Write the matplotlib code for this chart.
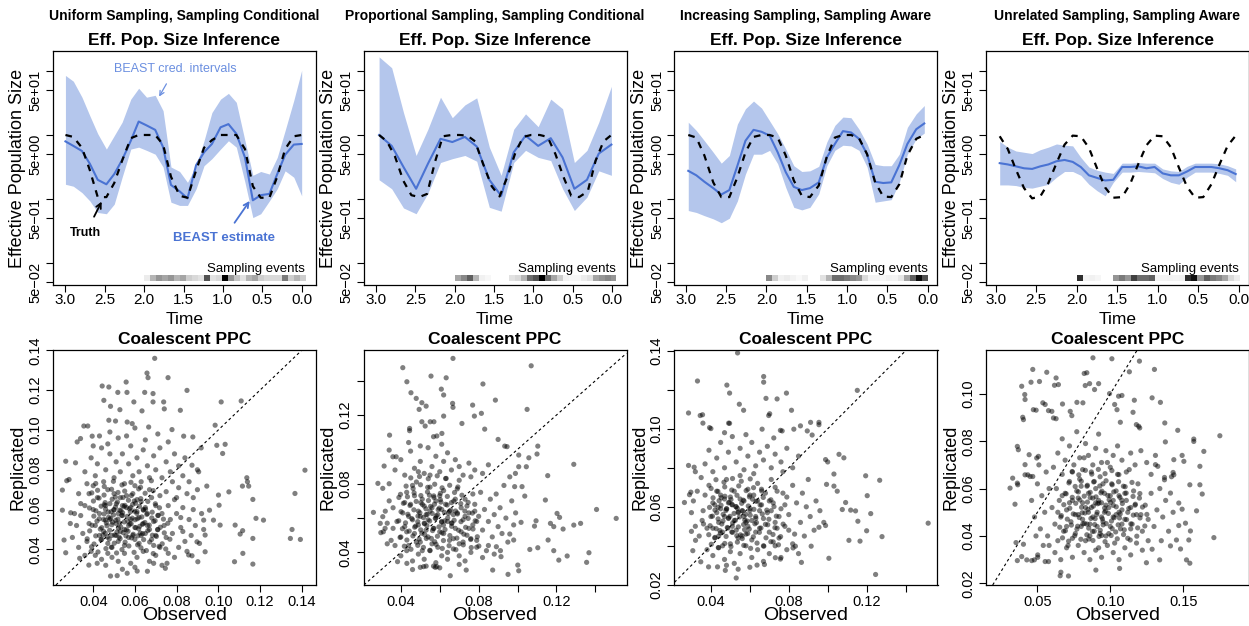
import numpy as np
import matplotlib
matplotlib.use('Agg')
import matplotlib.pyplot as plt

plt.rcParams['font.family'] = ['Liberation Sans', 'DejaVu Sans']

# ---------------- data: top row (log10 effective population size) ----------------
panel_titles = ["Uniform Sampling, Sampling Conditional",
                "Proportional Sampling, Sampling Conditional",
                "Increasing Sampling, Sampling Aware",
                "Unrelated Sampling, Sampling Aware"]

p1_time = [3.00, 2.90, 2.79, 2.69, 2.59, 2.48, 2.38, 2.28, 2.17, 2.07, 1.97, 1.86, 1.76, 1.66, 1.55,
           1.45, 1.34, 1.24, 1.14, 1.03, 0.93, 0.83, 0.72, 0.62, 0.52, 0.41, 0.31, 0.21, 0.10, 0.00]
p1_upper = [1.93, 1.84, 1.59, 1.30, 1.02, 0.78, 0.99, 1.20, 1.56, 1.73, 1.59, 1.62, 1.38, 0.50, 0.43,
            0.26, 0.52, 0.91, 1.35, 1.56, 1.65, 1.51, 0.91, 0.37, 0.43, 0.39, 0.65, 1.07, 1.54, 2.01]
p1_lower = [0.23, 0.20, 0.10, -0.03, -0.21, -0.23, -0.08, 0.34, 0.78, 0.81, 0.76, 0.70, 0.50, -0.05, -0.10,
            -0.10, 0.16, 0.52, 0.63, 0.78, 0.91, 0.81, 0.26, -0.29, -0.23, -0.03, 0.16, 0.44, 0.34, 0.05]
p1_est = [0.90, 0.83, 0.75, 0.55, 0.30, 0.23, 0.39, 0.61, 0.91, 1.21, 1.15, 1.08, 0.81, 0.22, 0.12,
          0.01, 0.53, 0.73, 0.86, 1.12, 1.17, 1.02, 0.65, -0.02, 0.06, 0.08, 0.39, 0.69, 0.85, 0.86]
p1_truth_time = p1_time
p1_truth = [1.00, 0.97, 0.80, 0.45, 0.03, 0.03, 0.25, 0.60, 0.95, 1.00, 1.00, 1.00, 0.85, 0.35, 0.05,
            0.02, 0.45, 0.80, 0.92, 1.00, 1.00, 1.00, 0.78, 0.20, 0.02, 0.02, 0.35, 0.78, 0.98, 1.00]

p2_time = [2.96, 2.80, 2.65, 2.49, 2.34, 2.18, 2.03, 1.87, 1.72, 1.56, 1.41, 1.25, 1.10, 0.94, 0.78,
           0.63, 0.48, 0.32, 0.17, 0.01]
p2_upper = [2.22, 2.05, 1.35, 0.68, 1.09, 1.59, 1.27, 1.47, 1.58, 0.81, 0.37, 1.09, 1.33, 1.13, 1.56,
            1.41, 0.57, 0.76, 1.20, 1.76]
p2_lower = [0.30, 0.16, -0.14, -0.23, 0.09, 0.57, 0.63, 0.68, 0.59, -0.13, -0.19, 0.57, 0.76, 0.65, 0.60,
            0.16, -0.18, 0.03, 0.44, 0.37]
p2_est = [1.00, 0.83, 0.50, 0.16, 0.55, 0.94, 0.89, 0.97, 0.82, 0.30, 0.05, 0.73, 0.99, 0.83, 0.95,
          0.65, 0.16, 0.30, 0.71, 0.85]
p2_truth_time = [2.96, 2.86, 2.76, 2.65, 2.55, 2.45, 2.35, 2.25, 2.15, 2.04, 1.94, 1.84, 1.74, 1.64, 1.53,
                 1.43, 1.33, 1.23, 1.13, 1.03, 0.92, 0.82, 0.72, 0.62, 0.52, 0.42, 0.31, 0.21, 0.11, 0.01]
p2_truth = [1.00, 0.90, 0.67, 0.28, 0.06, 0.03, 0.08, 0.58, 0.98, 1.00, 1.00, 0.99, 0.90, 0.55, 0.20,
            0.04, 0.35, 0.72, 0.97, 1.00, 1.00, 0.97, 0.70, 0.35, 0.05, 0.03, 0.12, 0.60, 0.90, 1.00]

p3_time = [2.97, 2.87, 2.77, 2.66, 2.56, 2.46, 2.36, 2.26, 2.16, 2.06, 1.96, 1.86, 1.76, 1.66, 1.56,
           1.46, 1.35, 1.25, 1.15, 1.05, 0.95, 0.85, 0.75, 0.65, 0.55, 0.45, 0.35, 0.25, 0.14, 0.04]
p3_upper = [1.20, 1.07, 0.91, 0.73, 0.56, 0.68, 1.17, 1.41, 1.53, 1.42, 1.22, 1.02, 0.78, 0.52, 0.43,
            0.44, 0.51, 0.89, 1.15, 1.28, 1.27, 1.09, 0.86, 0.54, 0.52, 0.52, 0.70, 1.12, 1.33, 1.46]
p3_lower = [-0.18, -0.21, -0.26, -0.31, -0.37, -0.30, -0.03, 0.39, 0.70, 0.70, 0.76, 0.55, 0.18, -0.13, -0.17,
            -0.13, 0.08, 0.52, 0.76, 0.84, 0.83, 0.76, 0.50, -0.05, -0.03, -0.01, 0.26, 0.70, 0.94, 1.03]
p3_est = [0.44, 0.37, 0.27, 0.17, 0.07, 0.14, 0.52, 0.91, 1.08, 1.05, 0.99, 0.73, 0.42, 0.19, 0.14,
          0.17, 0.26, 0.65, 0.86, 1.06, 1.04, 0.94, 0.70, 0.27, 0.25, 0.26, 0.53, 0.86, 1.09, 1.18]
p3_truth_time = p3_time
p3_truth = [1.00, 0.96, 0.68, 0.26, 0.03, 0.03, 0.34, 0.73, 0.97, 1.00, 1.00, 0.96, 0.68, 0.29, 0.05,
            0.03, 0.21, 0.66, 0.96, 1.00, 1.00, 0.95, 0.70, 0.26, 0.04, 0.03, 0.23, 0.68, 0.94, 1.00]

p4_time = [2.95, 2.85, 2.75, 2.65, 2.55, 2.45, 2.35, 2.25, 2.15, 2.05, 1.95, 1.85, 1.75, 1.65, 1.55,
           1.44, 1.34, 1.24, 1.14, 1.04, 0.94, 0.84, 0.74, 0.64, 0.54, 0.44, 0.34, 0.24, 0.14, 0.04]
p4_upper = [0.90, 0.81, 0.75, 0.73, 0.71, 0.77, 0.81, 0.86, 0.84, 0.83, 0.65, 0.50, 0.45, 0.42, 0.40,
            0.56, 0.56, 0.57, 0.56, 0.56, 0.47, 0.44, 0.43, 0.51, 0.56, 0.56, 0.56, 0.55, 0.52, 0.47]
p4_lower = [0.22, 0.22, 0.21, 0.18, 0.17, 0.20, 0.23, 0.34, 0.43, 0.43, 0.37, 0.23, 0.13, 0.05, 0.26,
            0.42, 0.42, 0.43, 0.42, 0.41, 0.32, 0.26, 0.23, 0.34, 0.42, 0.42, 0.42, 0.40, 0.37, 0.27]
p4_est = [0.56, 0.54, 0.51, 0.48, 0.47, 0.51, 0.54, 0.59, 0.61, 0.58, 0.50, 0.37, 0.33, 0.29, 0.30,
          0.50, 0.50, 0.51, 0.48, 0.50, 0.40, 0.37, 0.37, 0.43, 0.50, 0.50, 0.50, 0.48, 0.45, 0.39]
p4_truth_time = p4_time
p4_truth = [0.98, 0.78, 0.46, 0.17, 0.01, 0.04, 0.25, 0.56, 0.85, 0.99, 0.98, 0.80, 0.48, 0.18, 0.02,
            0.03, 0.24, 0.55, 0.84, 0.99, 0.98, 0.81, 0.49, 0.19, 0.02, 0.03, 0.23, 0.54, 0.83, 0.99]

# sampling-event intensity (0 = none, 1 = most), 27 bins from t=2.0 towards 0
p1_samp = [0.15, 0.40, 0.50, 0.45, 0.50, 0.40, 0.45, 0.30, 0.25, 0.20, 0.75, 0.20, 0.25, 1.00, 0.50,
           0.35, 0.20, 0.40, 0.45, 0.30, 0.25, 0.25, 0.25, 0.60, 0.30, 0.40, 0.30]
p2_samp = [0.45, 0.55, 0.70, 0.40, 0.12, 0.07, 0.00, 0.00, 0.00, 0.20, 0.25, 0.40, 0.65, 0.75, 1.00,
           0.65, 0.45, 0.30, 0.10, 0.07, 0.07, 0.15, 0.20, 0.45, 0.50, 0.55, 0.50]
p3_samp = [0.55, 0.30, 0.12, 0.15, 0.10, 0.05, 0.12, 0.00, 0.00, 0.20, 0.40, 0.65, 0.65, 0.60, 0.55,
           0.50, 0.25, 0.10, 0.10, 0.08, 0.12, 0.10, 0.18, 0.45, 0.70, 0.95, 0.75]
p4_samp = [0.85, 0.10, 0.12, 0.08, 0.00, 0.00, 0.50, 0.60, 0.50, 0.80, 0.65, 0.65, 0.70, 0.10, 0.10,
           0.12, 0.10, 0.12, 0.85, 0.95, 0.50, 0.70, 0.60, 0.55, 0.45, 0.25, 0.15]

# ---------------- data: bottom row (observed, replicated) ----------------
ppc1 = [
    (0.0695, 0.136), (0.0658, 0.1286), (0.0663, 0.1263), (0.0759, 0.1263), (0.0558, 0.1241), (0.0443, 0.1221),
    (0.0475, 0.1216), (0.0518, 0.1189), (0.0562, 0.1189), (0.0647, 0.1189), (0.0687, 0.1183), (0.0850, 0.1199),
    (0.0451, 0.1149), (0.0595, 0.1141), (0.0687, 0.1141), (0.0738, 0.1141), (0.1014, 0.1141), (0.1110, 0.1146),
    (0.0483, 0.1119), (0.0528, 0.1102), (0.0634, 0.1096), (0.0741, 0.1106), (0.0818, 0.1099), (0.0507, 0.1045),
    (0.0475, 0.1049), (0.0587, 0.1032), (0.0666, 0.1015), (0.0355, 0.1020), (0.0374, 0.1020), (0.0563, 0.1040),
    (0.0778, 0.1002), (0.0985, 0.1024), (0.0878, 0.0965), (0.0834, 0.0969), (0.0339, 0.0957), (0.0323, 0.0940),
    (0.0395, 0.0969), (0.0993, 0.0923), (0.0918, 0.0910), (0.1033, 0.0928), (0.1021, 0.0882), (0.0268, 0.0843),
    (0.0315, 0.0835), (0.0874, 0.0823), (0.0906, 0.0790), (0.1416, 0.0798), (0.1137, 0.0760), (0.1140, 0.0740),
    (0.1051, 0.0689), (0.0945, 0.0718), (0.0252, 0.0698), (0.0273, 0.0745), (0.0284, 0.0751), (0.1116, 0.0718),
    (0.1146, 0.0718), (0.1001, 0.0673), (0.1166, 0.0651), (0.1368, 0.0681), (0.1004, 0.0622), (0.0958, 0.0597),
    (0.0252, 0.0597), (0.0292, 0.0584), (0.0977, 0.0547), (0.1009, 0.0522), (0.0930, 0.0547), (0.1081, 0.0522),
    (0.1117, 0.0494), (0.1181, 0.0556), (0.1217, 0.0547), (0.1354, 0.0500), (0.1346, 0.0455), (0.1394, 0.0450),
    (0.1166, 0.0455), (0.1105, 0.0477), (0.1078, 0.0338), (0.1118, 0.0380), (0.1166, 0.0326), (0.0937, 0.0472),
    (0.0898, 0.0438), (0.0902, 0.0338), (0.0874, 0.0368), (0.0858, 0.0372), (0.0937, 0.0388), (0.0515, 0.0268),
    (0.0483, 0.0266), (0.0563, 0.0280), (0.0611, 0.0291), (0.0690, 0.0330), (0.0746, 0.0305), (0.0754, 0.0330),
    (0.0268, 0.0383), (0.0260, 0.0447), (0.0379, 0.0321), (0.0419, 0.0330), (0.0335, 0.0355),
    (0.041, 0.052), (0.043, 0.058), (0.045, 0.049), (0.046, 0.062), (0.048, 0.055), (0.049, 0.047), (0.050, 0.060),
    (0.051, 0.053), (0.052, 0.044), (0.053, 0.066), (0.054, 0.057), (0.055, 0.050), (0.056, 0.061), (0.057, 0.046),
    (0.058, 0.055), (0.059, 0.068), (0.060, 0.051), (0.061, 0.059), (0.062, 0.043), (0.063, 0.064), (0.064, 0.053),
    (0.065, 0.048), (0.066, 0.058), (0.067, 0.070), (0.068, 0.045), (0.069, 0.054), (0.070, 0.062), (0.071, 0.050),
    (0.072, 0.041), (0.042, 0.066), (0.044, 0.045), (0.047, 0.070), (0.049, 0.041), (0.050, 0.068), (0.052, 0.058),
    (0.053, 0.049), (0.055, 0.042), (0.056, 0.067), (0.058, 0.061), (0.059, 0.047), (0.060, 0.072), (0.062, 0.056),
    (0.063, 0.047), (0.065, 0.061), (0.066, 0.052), (0.068, 0.066), (0.069, 0.042), (0.071, 0.057), (0.040, 0.060),
    (0.043, 0.047), (0.045, 0.055), (0.047, 0.043), (0.048, 0.063), (0.051, 0.047), (0.054, 0.062), (0.057, 0.052),
    (0.060, 0.045), (0.061, 0.065), (0.064, 0.060), (0.067, 0.050), (0.070, 0.047), (0.073, 0.058), (0.074, 0.052),
    (0.075, 0.046), (0.076, 0.062), (0.077, 0.055), (0.078, 0.048), (0.079, 0.065), (0.080, 0.058), (0.082, 0.051),
    (0.083, 0.061), (0.084, 0.044), (0.086, 0.055), (0.088, 0.060), (0.085, 0.068), (0.081, 0.071), (0.078, 0.074),
    (0.075, 0.069), (0.072, 0.067),
    (0.030, 0.046), (0.032, 0.052), (0.033, 0.041), (0.034, 0.057), (0.035, 0.048), (0.036, 0.062), (0.037, 0.044),
    (0.038, 0.053), (0.039, 0.039), (0.036, 0.037), (0.034, 0.063), (0.031, 0.058), (0.038, 0.068), (0.040, 0.072),
    (0.037, 0.073), (0.033, 0.068), (0.029, 0.053), (0.041, 0.037), (0.044, 0.035), (0.047, 0.038),
    (0.049, 0.036), (0.052, 0.034), (0.055, 0.038), (0.058, 0.033), (0.061, 0.036), (0.064, 0.039), (0.067, 0.034),
    (0.070, 0.037), (0.073, 0.032), (0.076, 0.038), (0.079, 0.036), (0.054, 0.030), (0.060, 0.031), (0.066, 0.029),
    (0.046, 0.032),
    (0.036, 0.079), (0.039, 0.086), (0.041, 0.077), (0.042, 0.083), (0.044, 0.091), (0.045, 0.074), (0.046, 0.080),
    (0.048, 0.088), (0.050, 0.076), (0.051, 0.084), (0.052, 0.096), (0.053, 0.079), (0.054, 0.088), (0.055, 0.073),
    (0.057, 0.083), (0.058, 0.092), (0.059, 0.077), (0.061, 0.086), (0.062, 0.079), (0.063, 0.074), (0.064, 0.090),
    (0.066, 0.082), (0.067, 0.076), (0.069, 0.087), (0.070, 0.080), (0.072, 0.091), (0.073, 0.076), (0.075, 0.084),
    (0.077, 0.079), (0.079, 0.088), (0.081, 0.082), (0.083, 0.077), (0.084, 0.086), (0.086, 0.074), (0.090, 0.080),
    (0.043, 0.097), (0.048, 0.099), (0.056, 0.097), (0.065, 0.095), (0.071, 0.098), (0.060, 0.101), (0.047, 0.093),
    (0.040, 0.092), (0.076, 0.094),
    (0.081, 0.041), (0.083, 0.049), (0.085, 0.039), (0.087, 0.047), (0.089, 0.052), (0.091, 0.043), (0.092, 0.058),
    (0.093, 0.050), (0.080, 0.066), (0.088, 0.066), (0.090, 0.070), (0.082, 0.056),
]
ppc1_core = [
    (0.0392, 0.0413), (0.0423, 0.0387), (0.0461, 0.0404), (0.0487, 0.0411), (0.0512, 0.0382), (0.0538, 0.0399),
    (0.0571, 0.0417), (0.0596, 0.0385), (0.0629, 0.0408), (0.0655, 0.0394), (0.0688, 0.0379), (0.0716, 0.0415),
    (0.0748, 0.0402), (0.0371, 0.0453), (0.0404, 0.0427), (0.0437, 0.0448), (0.0468, 0.0462), (0.0501, 0.0431),
    (0.0529, 0.0454), (0.0553, 0.0436), (0.0584, 0.0458), (0.0613, 0.0423), (0.0642, 0.0449), (0.0671, 0.0437),
    (0.0703, 0.0465), (0.0731, 0.0428), (0.0768, 0.0451), (0.0383, 0.0493), (0.0412, 0.0468), (0.0434, 0.0502),
    (0.0458, 0.0481), (0.0479, 0.0496), (0.0503, 0.0472), (0.0521, 0.0507), (0.0544, 0.0484), (0.0567, 0.0491),
    (0.0592, 0.0476), (0.0618, 0.0503), (0.0637, 0.0479), (0.0662, 0.0494), (0.0684, 0.0471), (0.0709, 0.0499),
    (0.0741, 0.0483), (0.0394, 0.0521), (0.0418, 0.0542), (0.0441, 0.0509), (0.0463, 0.0533), (0.0489, 0.0524),
    (0.0508, 0.0546), (0.0532, 0.0513), (0.0549, 0.0538), (0.0576, 0.0527), (0.0601, 0.0549), (0.0623, 0.0516),
    (0.0648, 0.0535), (0.0669, 0.0522), (0.0697, 0.0544), (0.0722, 0.0511), (0.0758, 0.0531), (0.0403, 0.0567),
    (0.0429, 0.0554), (0.0452, 0.0578), (0.0474, 0.0561), (0.0497, 0.0573), (0.0518, 0.0552), (0.0541, 0.0584),
    (0.0563, 0.0566), (0.0587, 0.0557), (0.0609, 0.0581), (0.0633, 0.0563), (0.0657, 0.0576), (0.0681, 0.0558),
    (0.0712, 0.0571), (0.0737, 0.0552), (0.0382, 0.0608), (0.0413, 0.0594), (0.0438, 0.0617), (0.0459, 0.0602),
    (0.0486, 0.0589), (0.0507, 0.0613), (0.0527, 0.0597), (0.0552, 0.0621), (0.0574, 0.0604), (0.0598, 0.0592),
    (0.0622, 0.0616), (0.0651, 0.0601), (0.0683, 0.0587), (0.0718, 0.0609), (0.0401, 0.0643), (0.0428, 0.0658),
    (0.0457, 0.0635), (0.0491, 0.0652), (0.0516, 0.0638), (0.0543, 0.0661), (0.0569, 0.0647), (0.0603, 0.0632),
    (0.0628, 0.0655), (0.0662, 0.0641), (0.0698, 0.0629), (0.0393, 0.0684), (0.0421, 0.0697), (0.0452, 0.0673),
    (0.0488, 0.0702), (0.0519, 0.0686), (0.0551, 0.0693), (0.0583, 0.0671), (0.0618, 0.0704), (0.0649, 0.0682),
    (0.0688, 0.0695), (0.0412, 0.0731), (0.0453, 0.0716), (0.0497, 0.0742), (0.0538, 0.0724), (0.0581, 0.0737),
    (0.0627, 0.0712), (0.0679, 0.0745), (0.0447, 0.0472), (0.0466, 0.0519), (0.0483, 0.0556), (0.0499, 0.0598),
    (0.0514, 0.0487), (0.0527, 0.0532), (0.0536, 0.0571), (0.0548, 0.0615), (0.0559, 0.0498), (0.0566, 0.0541),
    (0.0578, 0.0589), (0.0589, 0.0626), (0.0604, 0.0509), (0.0612, 0.0554), (0.0626, 0.0482), (0.0641, 0.0597),
    (0.0453, 0.0624), (0.0472, 0.0588), (0.0493, 0.0537), (0.0511, 0.0629), (0.0524, 0.0462), (0.0557, 0.0468),
    (0.0582, 0.0529), (0.0597, 0.0643), (0.0614, 0.0468), (0.0636, 0.0526), (0.0459, 0.0547), (0.0477, 0.0452),
    (0.0506, 0.0663), (0.0533, 0.0594),
]

ppc2 = [
    (0.0668, 0.1530), (0.1070, 0.1487), (0.0410, 0.1476), (0.0555, 0.1427), (0.0633, 0.1417), (0.0431, 0.1394),
    (0.0822, 0.1381), (0.0608, 0.1351), (0.0452, 0.1330), (0.0479, 0.1297), (0.0620, 0.1317), (0.0508, 0.1272),
    (0.0530, 0.1252), (0.0494, 0.1233), (0.0666, 0.1268), (0.0668, 0.1245), (0.0769, 0.1258), (0.0886, 0.1287),
    (0.0814, 0.1210), (0.0778, 0.1194), (0.1049, 0.1233), (0.0620, 0.1194), (0.0508, 0.1161), (0.0551, 0.1161),
    (0.0570, 0.1161), (0.0714, 0.1151), (0.0525, 0.1136), (0.0445, 0.1122), (0.0445, 0.1109), (0.0831, 0.1118),
    (0.0342, 0.1083), (0.0568, 0.1074), (0.0585, 0.1078), (0.0611, 0.1093), (0.0900, 0.1058), (0.0934, 0.1019),
    (0.0946, 0.1016), (0.1104, 0.1019), (0.1006, 0.0967), (0.1058, 0.0951), (0.1100, 0.0973), (0.1289, 0.0913),
    (0.1155, 0.0847), (0.1006, 0.0899), (0.1045, 0.0899), (0.0989, 0.0860), (0.1023, 0.0783), (0.0985, 0.0783),
    (0.1037, 0.0728), (0.1143, 0.0705), (0.1406, 0.0650), (0.1507, 0.0598), (0.1203, 0.0627), (0.1216, 0.0604),
    (0.1186, 0.0550), (0.1234, 0.0536), (0.1087, 0.0553), (0.1095, 0.0584), (0.1169, 0.0569), (0.1289, 0.0559),
    (0.1324, 0.0569), (0.1018, 0.0575), (0.0960, 0.0507), (0.0980, 0.0472), (0.1063, 0.0417), (0.1104, 0.0427),
    (0.1157, 0.0472), (0.1186, 0.0410), (0.1212, 0.0355), (0.1255, 0.0379), (0.1367, 0.0398), (0.1355, 0.0342),
    (0.1001, 0.0326), (0.1006, 0.0293), (0.0951, 0.0272), (0.0872, 0.0297), (0.0736, 0.0297), (0.0654, 0.0264),
    (0.0585, 0.0317), (0.0577, 0.0313), (0.0568, 0.0320), (0.0517, 0.0317), (0.0500, 0.0313), (0.0431, 0.0336),
    (0.0383, 0.0346), (0.0912, 0.0410), (0.0915, 0.0375), (0.0891, 0.0433), (0.0259, 0.0633), (0.0282, 0.0802),
    (0.0307, 0.0773), (0.0314, 0.0903), (0.0340, 0.0996), (0.0359, 0.0957), (0.0376, 0.0957), (0.0294, 0.0569),
    (0.0297, 0.0515), (0.0319, 0.0540), (0.0307, 0.0608),
    (0.036, 0.066), (0.038, 0.058), (0.039, 0.072), (0.040, 0.049), (0.041, 0.063), (0.042, 0.055), (0.043, 0.075),
    (0.044, 0.044), (0.045, 0.068), (0.046, 0.059), (0.047, 0.051), (0.048, 0.081), (0.049, 0.064), (0.050, 0.046),
    (0.051, 0.071), (0.052, 0.057), (0.053, 0.062), (0.054, 0.049), (0.055, 0.078), (0.056, 0.066), (0.057, 0.054),
    (0.058, 0.060), (0.059, 0.043), (0.060, 0.073), (0.061, 0.065), (0.062, 0.051), (0.063, 0.083), (0.064, 0.058),
    (0.065, 0.047), (0.066, 0.069), (0.067, 0.062), (0.068, 0.054), (0.069, 0.077), (0.070, 0.045), (0.071, 0.066),
    (0.072, 0.059), (0.073, 0.071), (0.074, 0.050), (0.075, 0.063), (0.076, 0.084), (0.077, 0.056), (0.078, 0.068),
    (0.079, 0.047), (0.080, 0.061), (0.081, 0.075), (0.082, 0.053), (0.083, 0.065), (0.084, 0.041), (0.085, 0.058),
    (0.086, 0.071), (0.087, 0.049), (0.088, 0.062), (0.090, 0.055), (0.044, 0.061), (0.047, 0.073), (0.049, 0.056),
    (0.051, 0.041), (0.052, 0.067), (0.054, 0.059), (0.056, 0.045), (0.057, 0.072), (0.059, 0.062), (0.060, 0.052),
    (0.062, 0.076), (0.063, 0.068), (0.064, 0.040), (0.066, 0.057), (0.067, 0.048), (0.069, 0.063), (0.070, 0.082),
    (0.072, 0.046), (0.074, 0.067), (0.075, 0.054), (0.077, 0.074), (0.079, 0.058), (0.042, 0.069), (0.043, 0.052),
    (0.046, 0.079), (0.048, 0.046), (0.050, 0.061), (0.053, 0.053), (0.055, 0.064), (0.058, 0.070), (0.061, 0.058),
    (0.065, 0.064), (0.068, 0.071), (0.071, 0.052), (0.073, 0.061), (0.076, 0.048), (0.078, 0.064),
    (0.037, 0.088), (0.040, 0.094), (0.042, 0.085), (0.045, 0.099), (0.047, 0.089), (0.050, 0.093), (0.052, 0.086),
    (0.054, 0.101), (0.056, 0.090), (0.058, 0.096), (0.060, 0.087), (0.062, 0.093), (0.064, 0.098), (0.066, 0.088),
    (0.068, 0.094), (0.070, 0.090), (0.072, 0.085), (0.075, 0.092), (0.078, 0.088), (0.082, 0.086), (0.085, 0.091),
    (0.044, 0.104), (0.050, 0.102), (0.061, 0.103), (0.055, 0.085), (0.049, 0.087),
    (0.037, 0.044), (0.040, 0.038), (0.043, 0.041), (0.046, 0.035), (0.049, 0.039), (0.052, 0.036), (0.055, 0.041),
    (0.058, 0.034), (0.061, 0.038), (0.064, 0.036), (0.067, 0.042), (0.070, 0.038), (0.073, 0.035), (0.076, 0.040),
    (0.079, 0.043), (0.082, 0.037), (0.085, 0.044), (0.088, 0.039), (0.060, 0.031), (0.053, 0.032), (0.046, 0.030),
    (0.070, 0.033),
    (0.031, 0.052), (0.032, 0.064), (0.033, 0.057), (0.034, 0.070), (0.035, 0.047), (0.036, 0.054), (0.034, 0.080),
    (0.033, 0.045),
    (0.089, 0.074), (0.091, 0.066), (0.092, 0.051), (0.093, 0.079), (0.094, 0.060), (0.095, 0.046), (0.097, 0.070),
    (0.098, 0.056), (0.099, 0.063), (0.096, 0.084),
]
ppc2_core = [
    (0.0418, 0.0436), (0.0452, 0.0418), (0.0487, 0.0441), (0.0516, 0.0429), (0.0549, 0.0412), (0.0581, 0.0447),
    (0.0613, 0.0423), (0.0648, 0.0439), (0.0683, 0.0416), (0.0721, 0.0444), (0.0762, 0.0428), (0.0801, 0.0437),
    (0.0396, 0.0487), (0.0431, 0.0472), (0.0462, 0.0496), (0.0494, 0.0478), (0.0523, 0.0503), (0.0557, 0.0481),
    (0.0588, 0.0494), (0.0619, 0.0469), (0.0652, 0.0498), (0.0688, 0.0483), (0.0724, 0.0506), (0.0759, 0.0475),
    (0.0793, 0.0491), (0.0408, 0.0538), (0.0443, 0.0524), (0.0471, 0.0547), (0.0502, 0.0531), (0.0534, 0.0556),
    (0.0563, 0.0527), (0.0596, 0.0549), (0.0627, 0.0533), (0.0661, 0.0552), (0.0697, 0.0529), (0.0733, 0.0546),
    (0.0771, 0.0536), (0.0389, 0.0584), (0.0424, 0.0572), (0.0456, 0.0597), (0.0487, 0.0579), (0.0516, 0.0603),
    (0.0548, 0.0583), (0.0577, 0.0598), (0.0609, 0.0576), (0.0641, 0.0601), (0.0674, 0.0587), (0.0709, 0.0579),
    (0.0746, 0.0598), (0.0782, 0.0584), (0.0401, 0.0637), (0.0436, 0.0622), (0.0467, 0.0648), (0.0498, 0.0631),
    (0.0529, 0.0654), (0.0561, 0.0627), (0.0592, 0.0649), (0.0624, 0.0633), (0.0657, 0.0646), (0.0691, 0.0624),
    (0.0729, 0.0641), (0.0768, 0.0629), (0.0413, 0.0686), (0.0447, 0.0673), (0.0479, 0.0697), (0.0511, 0.0679),
    (0.0542, 0.0702), (0.0573, 0.0681), (0.0606, 0.0693), (0.0638, 0.0676), (0.0672, 0.0699), (0.0708, 0.0684),
    (0.0746, 0.0691), (0.0398, 0.0738), (0.0434, 0.0724), (0.0468, 0.0747), (0.0503, 0.0731), (0.0537, 0.0752),
    (0.0569, 0.0729), (0.0603, 0.0744), (0.0639, 0.0726), (0.0676, 0.0749), (0.0714, 0.0733), (0.0427, 0.0786),
    (0.0463, 0.0772), (0.0501, 0.0794), (0.0538, 0.0779), (0.0574, 0.0797), (0.0612, 0.0776), (0.0651, 0.0791),
    (0.0693, 0.0781), (0.0451, 0.0834), (0.0496, 0.0842), (0.0541, 0.0829), (0.0587, 0.0846), (0.0633, 0.0831),
    (0.0508, 0.0512), (0.0522, 0.0567), (0.0536, 0.0621), (0.0553, 0.0668), (0.0567, 0.0539), (0.0582, 0.0613),
    (0.0598, 0.0658), (0.0611, 0.0514), (0.0626, 0.0584), (0.0645, 0.0627), (0.0488, 0.0611), (0.0476, 0.0553),
    (0.0531, 0.0481), (0.0574, 0.0462), (0.0603, 0.0707), (0.0547, 0.0733), (0.0619, 0.0559), (0.0663, 0.0571),
    (0.0681, 0.0641), (0.0503, 0.0689),
]

ppc3 = [
    (0.0537, 0.1389), (0.0331, 0.1245), (0.0671, 0.1268), (0.0671, 0.1239), (0.0482, 0.1224), (0.0496, 0.1183),
    (0.0788, 0.1183), (0.1152, 0.1197), (0.0683, 0.1156), (0.0740, 0.1153), (0.0546, 0.1126), (0.0568, 0.1095),
    (0.0285, 0.1081), (0.0345, 0.1068), (0.0357, 0.1072), (0.0697, 0.1068), (0.0702, 0.1077), (0.0814, 0.1095),
    (0.0359, 0.1029), (0.0491, 0.1029), (0.0496, 0.1028), (0.0955, 0.1033), (0.0955, 0.1021), (0.0912, 0.1033),
    (0.0860, 0.1015), (0.0826, 0.0998), (0.0895, 0.0989), (0.0920, 0.0968), (0.0393, 0.1006), (0.0400, 0.1001),
    (0.0663, 0.0998), (0.0757, 0.0992), (0.0766, 0.0989), (0.0723, 0.0953), (0.1058, 0.0869), (0.1083, 0.0851),
    (0.0989, 0.0842), (0.1000, 0.0830), (0.1032, 0.0768), (0.0994, 0.0715), (0.1032, 0.0706), (0.1049, 0.0680),
    (0.1195, 0.0759), (0.1267, 0.0736), (0.1203, 0.0657), (0.1118, 0.0583), (0.1143, 0.0579), (0.1075, 0.0586),
    (0.1092, 0.0622), (0.1155, 0.0526), (0.1221, 0.0565), (0.1200, 0.0477), (0.1166, 0.0424), (0.1109, 0.0428),
    (0.1279, 0.0447), (0.1516, 0.0516), (0.1246, 0.0253), (0.1006, 0.0336), (0.0955, 0.0495), (0.0989, 0.0504),
    (0.0915, 0.0398), (0.0865, 0.0315), (0.0822, 0.0389), (0.0834, 0.0398), (0.0757, 0.0332), (0.0731, 0.0339),
    (0.0675, 0.0304), (0.0637, 0.0301), (0.0530, 0.0235), (0.0474, 0.0274), (0.0434, 0.0292), (0.0388, 0.0292),
    (0.0348, 0.0318), (0.0307, 0.0375), (0.0264, 0.0622), (0.0290, 0.0662), (0.0297, 0.0675), (0.0285, 0.0812),
    (0.0314, 0.0803), (0.0300, 0.0474), (0.0321, 0.0428), (0.0355, 0.0530), (0.0362, 0.0512),
    (0.036, 0.058), (0.037, 0.066), (0.038, 0.049), (0.039, 0.071), (0.040, 0.055), (0.041, 0.062), (0.042, 0.044),
    (0.043, 0.068), (0.044, 0.052), (0.045, 0.059), (0.046, 0.047), (0.047, 0.064), (0.048, 0.074), (0.049, 0.054),
    (0.050, 0.041), (0.051, 0.061), (0.052, 0.068), (0.053, 0.048), (0.054, 0.057), (0.055, 0.076), (0.056, 0.045),
    (0.057, 0.063), (0.058, 0.052), (0.059, 0.069), (0.060, 0.058), (0.061, 0.043), (0.062, 0.066), (0.063, 0.055),
    (0.064, 0.072), (0.065, 0.049), (0.066, 0.061), (0.067, 0.040), (0.068, 0.067), (0.069, 0.057), (0.070, 0.047),
    (0.071, 0.074), (0.072, 0.062), (0.073, 0.052), (0.074, 0.068), (0.075, 0.044), (0.076, 0.059), (0.077, 0.078),
    (0.078, 0.050), (0.079, 0.065), (0.080, 0.056), (0.082, 0.071), (0.083, 0.046), (0.084, 0.062), (0.041, 0.049),
    (0.043, 0.057), (0.045, 0.066), (0.046, 0.040), (0.048, 0.059), (0.050, 0.065), (0.051, 0.050), (0.053, 0.060),
    (0.054, 0.044), (0.055, 0.064), (0.057, 0.055), (0.058, 0.046), (0.060, 0.066), (0.061, 0.053), (0.062, 0.077),
    (0.063, 0.047), (0.065, 0.058), (0.066, 0.069), (0.068, 0.051), (0.070, 0.063), (0.072, 0.042), (0.073, 0.070),
    (0.075, 0.055), (0.078, 0.061), (0.080, 0.048), (0.042, 0.061), (0.044, 0.045), (0.047, 0.055), (0.049, 0.062),
    (0.052, 0.053), (0.056, 0.058), (0.059, 0.050), (0.064, 0.063), (0.067, 0.054), (0.071, 0.058), (0.074, 0.049),
    (0.077, 0.067),
    (0.037, 0.082), (0.039, 0.089), (0.041, 0.078), (0.043, 0.085), (0.045, 0.093), (0.047, 0.080), (0.049, 0.088),
    (0.051, 0.096), (0.053, 0.083), (0.055, 0.090), (0.057, 0.079), (0.059, 0.086), (0.061, 0.093), (0.063, 0.081),
    (0.065, 0.088), (0.067, 0.084), (0.069, 0.091), (0.071, 0.080), (0.073, 0.087), (0.076, 0.083), (0.079, 0.090),
    (0.082, 0.080), (0.085, 0.086), (0.058, 0.097), (0.047, 0.098),
    (0.038, 0.038), (0.041, 0.035), (0.044, 0.039), (0.047, 0.033), (0.050, 0.037), (0.052, 0.031), (0.055, 0.036),
    (0.058, 0.040), (0.061, 0.034), (0.064, 0.038), (0.067, 0.032), (0.070, 0.036), (0.073, 0.040), (0.076, 0.034),
    (0.079, 0.038), (0.082, 0.041), (0.085, 0.036), (0.060, 0.029), (0.054, 0.028), (0.048, 0.030),
    (0.030, 0.057), (0.031, 0.063), (0.032, 0.050), (0.033, 0.068), (0.034, 0.045), (0.035, 0.075), (0.032, 0.078),
    (0.086, 0.052), (0.087, 0.067), (0.088, 0.045), (0.089, 0.060), (0.090, 0.074), (0.091, 0.055), (0.093, 0.048),
    (0.094, 0.063), (0.096, 0.058), (0.098, 0.052),
]
ppc3_core = [
    (0.0402, 0.0408), (0.0438, 0.0391), (0.0471, 0.0412), (0.0503, 0.0396), (0.0536, 0.0419), (0.0569, 0.0402),
    (0.0604, 0.0387), (0.0637, 0.0414), (0.0672, 0.0398), (0.0708, 0.0421), (0.0747, 0.0405), (0.0389, 0.0457),
    (0.0421, 0.0443), (0.0449, 0.0466), (0.0478, 0.0448), (0.0507, 0.0471), (0.0533, 0.0452), (0.0561, 0.0437),
    (0.0589, 0.0463), (0.0618, 0.0446), (0.0649, 0.0469), (0.0683, 0.0441), (0.0719, 0.0458), (0.0758, 0.0447),
    (0.0396, 0.0503), (0.0427, 0.0488), (0.0456, 0.0512), (0.0484, 0.0494), (0.0512, 0.0517), (0.0541, 0.0497),
    (0.0568, 0.0509), (0.0597, 0.0486), (0.0626, 0.0513), (0.0657, 0.0491), (0.0692, 0.0508), (0.0729, 0.0493),
    (0.0771, 0.0511), (0.0408, 0.0552), (0.0437, 0.0538), (0.0463, 0.0561), (0.0491, 0.0543), (0.0519, 0.0566),
    (0.0547, 0.0548), (0.0574, 0.0532), (0.0602, 0.0557), (0.0631, 0.0541), (0.0664, 0.0563), (0.0698, 0.0536),
    (0.0736, 0.0552), (0.0393, 0.0597), (0.0421, 0.0583), (0.0452, 0.0608), (0.0481, 0.0589), (0.0508, 0.0612),
    (0.0536, 0.0592), (0.0563, 0.0579), (0.0592, 0.0604), (0.0621, 0.0587), (0.0653, 0.0609), (0.0687, 0.0583),
    (0.0724, 0.0601), (0.0411, 0.0646), (0.0442, 0.0631), (0.0472, 0.0654), (0.0503, 0.0637), (0.0534, 0.0659),
    (0.0566, 0.0634), (0.0598, 0.0651), (0.0632, 0.0628), (0.0669, 0.0648), (0.0708, 0.0636), (0.0401, 0.0694),
    (0.0436, 0.0679), (0.0471, 0.0702), (0.0507, 0.0686), (0.0543, 0.0707), (0.0581, 0.0683), (0.0619, 0.0698),
    (0.0661, 0.0681), (0.0426, 0.0739), (0.0467, 0.0726), (0.0511, 0.0745), (0.0556, 0.0731), (0.0602, 0.0743),
    (0.0446, 0.0478), (0.0462, 0.0527), (0.0477, 0.0581), (0.0494, 0.0623), (0.0511, 0.0469), (0.0526, 0.0531),
    (0.0541, 0.0574), (0.0558, 0.0618), (0.0573, 0.0483), (0.0586, 0.0527), (0.0601, 0.0591), (0.0614, 0.0639),
    (0.0437, 0.0596), (0.0453, 0.0646), (0.0498, 0.0551), (0.0528, 0.0601), (0.0552, 0.0456), (0.0579, 0.0562),
    (0.0634, 0.0519), (0.0487, 0.0491),
]

ppc4 = [
    (0.0881, 0.1152), (0.1011, 0.1148), (0.1200, 0.1138), (0.0468, 0.1103), (0.0564, 0.1091), (0.1303, 0.1103),
    (0.0821, 0.1086), (0.0839, 0.1089), (0.1131, 0.1093), (0.0456, 0.1049), (0.0514, 0.1052), (0.0628, 0.1067),
    (0.0617, 0.1036), (0.0644, 0.1039), (0.0392, 0.1032), (0.0828, 0.1035), (0.0858, 0.1043), (0.0920, 0.1043),
    (0.0892, 0.1018), (0.0413, 0.0997), (0.0415, 0.0976), (0.0537, 0.0962), (0.0553, 0.0955), (0.0672, 0.0957),
    (0.0995, 0.1001), (0.1057, 0.0990), (0.1080, 0.0993), (0.1165, 0.0973), (0.1287, 0.0983), (0.1344, 0.0964),
    (0.1030, 0.0955), (0.1046, 0.0933), (0.0771, 0.0964), (0.0812, 0.0962), (0.0725, 0.0926), (0.0736, 0.0908),
    (0.0472, 0.0933), (0.0491, 0.0931), (0.0576, 0.0929), (0.0599, 0.0926), (0.0610, 0.0898), (0.0628, 0.0895),
    (0.0399, 0.0901), (0.0404, 0.0891), (0.1156, 0.0922), (0.1069, 0.0880), (0.1195, 0.0863), (0.1179, 0.0870),
    (0.1202, 0.0856), (0.1374, 0.0877), (0.1463, 0.0846), (0.1378, 0.0797), (0.1573, 0.0809), (0.1573, 0.0799),
    (0.1752, 0.0823), (0.1642, 0.0757), (0.1493, 0.0740), (0.1436, 0.0722), (0.1310, 0.0701), (0.1326, 0.0694),
    (0.1505, 0.0715), (0.1615, 0.0694), (0.1615, 0.0616), (0.1546, 0.0616), (0.1592, 0.0506), (0.1631, 0.0577),
    (0.1431, 0.0668), (0.1436, 0.0658), (0.1372, 0.0647), (0.1372, 0.0637), (0.1413, 0.0581), (0.1470, 0.0539),
    (0.1493, 0.0513), (0.1431, 0.0500), (0.1516, 0.0454), (0.1470, 0.0444), (0.1550, 0.0421), (0.1711, 0.0393),
    (0.1539, 0.0383), (0.1454, 0.0383), (0.1482, 0.0345), (0.1413, 0.0358), (0.1523, 0.0299), (0.1546, 0.0285),
    (0.1339, 0.0299), (0.1287, 0.0344), (0.1248, 0.0287), (0.1064, 0.0263), (0.0901, 0.0256), (0.0656, 0.0232),
    (0.0713, 0.0231), (0.0661, 0.0247), (0.0553, 0.0292), (0.0576, 0.0292), (0.0502, 0.0320), (0.0502, 0.0310),
    (0.0461, 0.0296), (0.0479, 0.0299), (0.0427, 0.0299), (0.0362, 0.0296), (0.0392, 0.0313), (0.0353, 0.0372),
    (0.0404, 0.0365), (0.0312, 0.0602), (0.0362, 0.0623), (0.0365, 0.0616), (0.0346, 0.0534), (0.0415, 0.0658),
    (0.0434, 0.0658), (0.0450, 0.0651), (0.0468, 0.0651), (0.0362, 0.0778), (0.0369, 0.0764), (0.0443, 0.0743),
    (0.0495, 0.0729), (0.0507, 0.0736), (0.0415, 0.0701), (0.0330, 0.0644),
    (0.060, 0.052), (0.062, 0.045), (0.063, 0.060), (0.064, 0.038), (0.065, 0.055), (0.066, 0.048), (0.067, 0.066),
    (0.068, 0.042), (0.069, 0.058), (0.070, 0.051), (0.071, 0.036), (0.072, 0.063), (0.073, 0.046), (0.074, 0.055),
    (0.075, 0.070), (0.076, 0.041), (0.077, 0.059), (0.078, 0.049), (0.079, 0.064), (0.080, 0.044), (0.081, 0.054),
    (0.082, 0.073), (0.083, 0.038), (0.084, 0.061), (0.085, 0.050), (0.086, 0.045), (0.087, 0.067), (0.088, 0.056),
    (0.089, 0.042), (0.090, 0.060), (0.091, 0.050), (0.092, 0.035), (0.093, 0.065), (0.094, 0.054), (0.095, 0.046),
    (0.096, 0.058), (0.097, 0.040), (0.098, 0.071), (0.099, 0.052), (0.100, 0.044), (0.101, 0.062), (0.102, 0.055),
    (0.103, 0.037), (0.104, 0.049), (0.105, 0.066), (0.106, 0.057), (0.107, 0.043), (0.108, 0.051), (0.109, 0.061),
    (0.110, 0.047), (0.111, 0.055), (0.112, 0.039), (0.113, 0.068), (0.114, 0.052), (0.115, 0.045), (0.116, 0.059),
    (0.118, 0.049), (0.120, 0.056), (0.122, 0.042), (0.124, 0.053), (0.126, 0.047), (0.128, 0.058), (0.130, 0.044),
    (0.132, 0.051),
    (0.064, 0.050), (0.067, 0.057), (0.070, 0.044), (0.072, 0.054), (0.074, 0.039), (0.076, 0.049), (0.078, 0.056),
    (0.080, 0.061), (0.081, 0.047), (0.083, 0.052), (0.085, 0.058), (0.086, 0.040), (0.088, 0.048), (0.089, 0.063),
    (0.091, 0.044), (0.092, 0.055), (0.094, 0.048), (0.095, 0.062), (0.097, 0.053), (0.099, 0.041), (0.100, 0.057),
    (0.102, 0.048), (0.104, 0.059), (0.106, 0.050), (0.108, 0.045), (0.110, 0.058), (0.112, 0.050), (0.114, 0.043),
    (0.117, 0.053), (0.119, 0.062), (0.121, 0.049), (0.084, 0.045), (0.090, 0.054), (0.096, 0.050), (0.087, 0.052),
    (0.093, 0.041),
    (0.061, 0.069), (0.064, 0.075), (0.067, 0.081), (0.069, 0.072), (0.072, 0.078), (0.074, 0.067), (0.077, 0.084),
    (0.079, 0.073), (0.081, 0.068), (0.083, 0.079), (0.085, 0.074), (0.088, 0.070), (0.090, 0.077), (0.092, 0.083),
    (0.094, 0.071), (0.097, 0.076), (0.100, 0.069), (0.102, 0.074), (0.105, 0.078), (0.108, 0.072), (0.111, 0.067),
    (0.114, 0.075), (0.117, 0.070), (0.121, 0.076), (0.125, 0.071), (0.128, 0.066), (0.131, 0.074),
    (0.058, 0.036), (0.062, 0.033), (0.066, 0.030), (0.070, 0.035), (0.074, 0.031), (0.078, 0.036), (0.082, 0.033),
    (0.086, 0.030), (0.090, 0.034), (0.094, 0.031), (0.098, 0.036), (0.102, 0.033), (0.106, 0.030), (0.110, 0.035),
    (0.114, 0.032), (0.118, 0.037), (0.122, 0.034), (0.126, 0.038),
    (0.046, 0.055), (0.048, 0.048), (0.050, 0.062), (0.052, 0.043), (0.053, 0.057), (0.055, 0.050), (0.056, 0.067),
    (0.057, 0.040), (0.058, 0.060), (0.054, 0.036), (0.049, 0.040), (0.051, 0.070),
    (0.134, 0.060), (0.136, 0.048), (0.138, 0.055), (0.140, 0.042), (0.142, 0.065), (0.135, 0.038),
]
ppc4_core = [
    (0.0672, 0.0392), (0.0714, 0.0378), (0.0756, 0.0401), (0.0798, 0.0386), (0.0839, 0.0405), (0.0881, 0.0381),
    (0.0923, 0.0398), (0.0964, 0.0376), (0.1006, 0.0402), (0.1048, 0.0388), (0.1091, 0.0406), (0.1137, 0.0383),
    (0.1182, 0.0399), (0.0653, 0.0437), (0.0692, 0.0422), (0.0733, 0.0446), (0.0771, 0.0429), (0.0812, 0.0451),
    (0.0852, 0.0433), (0.0893, 0.0448), (0.0931, 0.0424), (0.0972, 0.0452), (0.1013, 0.0431), (0.1054, 0.0447),
    (0.1096, 0.0426), (0.1141, 0.0451), (0.1188, 0.0434), (0.1237, 0.0442), (0.0664, 0.0486), (0.0705, 0.0471),
    (0.0746, 0.0493), (0.0787, 0.0478), (0.0826, 0.0497), (0.0867, 0.0474), (0.0907, 0.0491), (0.0946, 0.0472),
    (0.0987, 0.0495), (0.1027, 0.0477), (0.1068, 0.0493), (0.1112, 0.0469), (0.1158, 0.0488), (0.1204, 0.0476),
    (0.1251, 0.0491), (0.0681, 0.0532), (0.0722, 0.0517), (0.0763, 0.0538), (0.0803, 0.0521), (0.0843, 0.0543),
    (0.0884, 0.0526), (0.0922, 0.0539), (0.0961, 0.0518), (0.1001, 0.0541), (0.1041, 0.0523), (0.1083, 0.0537),
    (0.1127, 0.0516), (0.1172, 0.0534), (0.1221, 0.0522), (0.0697, 0.0578), (0.0739, 0.0563), (0.0781, 0.0586),
    (0.0821, 0.0568), (0.0862, 0.0584), (0.0902, 0.0565), (0.0942, 0.0589), (0.0983, 0.0571), (0.1024, 0.0586),
    (0.1066, 0.0563), (0.1109, 0.0581), (0.1156, 0.0567), (0.1203, 0.0579), (0.0716, 0.0624), (0.0759, 0.0609),
    (0.0801, 0.0631), (0.0843, 0.0614), (0.0886, 0.0628), (0.0928, 0.0611), (0.0971, 0.0633), (0.1013, 0.0616),
    (0.1057, 0.0629), (0.1102, 0.0608), (0.1149, 0.0626), (0.0738, 0.0672), (0.0784, 0.0658), (0.0829, 0.0677),
    (0.0873, 0.0661), (0.0918, 0.0681), (0.0964, 0.0663), (0.1011, 0.0676), (0.1059, 0.0659),
    (0.0823, 0.0453), (0.0847, 0.0512), (0.0862, 0.0562), (0.0878, 0.0419), (0.0896, 0.0473), (0.0913, 0.0536),
    (0.0936, 0.0582), (0.0951, 0.0447), (0.0968, 0.0506), (0.0992, 0.0553), (0.1008, 0.0463), (0.1021, 0.0529),
    (0.1037, 0.0417), (0.0807, 0.0498), (0.0791, 0.0552), (0.0853, 0.0387), (0.0941, 0.0402), (0.1063, 0.0476),
    (0.1079, 0.0551), (0.0776, 0.0441),
]

# axis tick values / labels
top_yticks = [0.05, 0.1, 0.5, 1, 5, 10, 50, 100]
top_ylabels = ["5e\u221202", "", "5e\u221201", "", "5e+00", "", "5e+01", ""]
top_xticks = [3.0, 2.5, 2.0, 1.5, 1.0, 0.5, 0.0]

ppc_xticks = [[0.04, 0.06, 0.08, 0.10, 0.12, 0.14],
              [0.04, 0.06, 0.08, 0.10, 0.12, 0.14],
              [0.04, 0.06, 0.08, 0.10, 0.12, 0.14],
              [0.05, 0.10, 0.15]]
ppc_xlabels = [["0.04", "0.06", "0.08", "0.10", "0.12", "0.14"],
               ["0.04", "", "0.08", "", "0.12", ""],
               ["0.04", "", "0.08", "", "0.12", ""],
               ["0.05", "0.10", "0.15"]]
ppc_yticks = [[0.04, 0.06, 0.08, 0.10, 0.12, 0.14],
              [0.04, 0.06, 0.08, 0.10, 0.12, 0.14],
              [0.02, 0.04, 0.06, 0.08, 0.10, 0.12, 0.14],
              [0.02, 0.04, 0.06, 0.08, 0.10]]
ppc_ylabels = [["0.04", "0.06", "0.08", "0.10", "0.12", "0.14"],
               ["0.04", "", "0.08", "", "0.12", ""],
               ["0.02", "", "0.06", "", "0.10", "", "0.14"],
               ["0.02", "0.04", "0.06", "0.08", "0.10"]]

# ---------------- styling / layout ----------------
BAND = '#b4c6ec'
LINE = '#4a73d3'
LIGHTBLUE = '#6b8fe0'
W, H = 1249, 626
fig = plt.figure(figsize=(W / 100, H / 100), dpi=100)


def box(left, top, right, bottom):
    return [left / W, 1 - bottom / H, (right - left) / W, (bottom - top) / H]


def fx(x):
    return x / W


def fy(y):
    return 1 - y / H


lefts = [53, 363.5, 674.5, 986]
pw = 263
top_xlims = [(3.158, -0.182), (3.158, -0.182), (3.141, -0.124), (3.119, -0.124)]
strip_ranges = [(2.0, -0.055), (2.0, -0.055), (2.0, -0.01), (2.0, -0.01)]
ppc_xlims = [(0.0207, 0.1469), (0.0208, 0.156), (0.0213, 0.1564), (0.0147, 0.1952)]
ppc_ylims = [(0.0221, 0.1402), (0.021, 0.1579), (0.0199, 0.1404), (0.0193, 0.1185)]

tops = [(p1_time, p1_upper, p1_lower, p1_est, p1_truth_time, p1_truth, p1_samp),
        (p2_time, p2_upper, p2_lower, p2_est, p2_truth_time, p2_truth, p2_samp),
        (p3_time, p3_upper, p3_lower, p3_est, p3_truth_time, p3_truth, p3_samp),
        (p4_time, p4_upper, p4_lower, p4_est, p4_truth_time, p4_truth, p4_samp)]
ppcs = [ppc1 + ppc1_core, ppc2 + ppc2_core, ppc3 + ppc3_core, ppc4 + ppc4_core]


def style(ax):
    for s in ax.spines.values():
        s.set_linewidth(0.9)
    ax.tick_params(direction='out', length=5, width=0.8, colors='black')


for i in range(4):
    L = lefts[i]
    cx = L + pw / 2
    t, up, lo, est, tt, tr, samp = tops[i]

    # ---------- top panel ----------
    ax = fig.add_axes(box(L, 51, L + pw, 285))
    ax.set_yscale('log')
    ax.fill_between(t, 10 ** np.array(lo), 10 ** np.array(up), color=BAND, lw=0)
    ax.plot(t, 10 ** np.array(est), color=LINE, lw=1.5)
    ax.plot(tt, 10 ** np.array(tr), color='black', lw=1.6, ls=(0, (3.0, 3.0)))
    s0, s1 = strip_ranges[i]
    edges = np.linspace(s0, s1, len(samp) + 1)
    ax.pcolormesh(edges, [0.053, 0.0658], np.array([samp]), cmap='Greys', vmin=0, vmax=1,
                  shading='flat')
    ax.text(s1 + 0.01, 0.081, "Sampling events", ha='right', va='center', fontsize=9.5)
    ax.set_xlim(*top_xlims[i])
    ax.set_ylim(0.0454, 205)
    ax.set_yticks(top_yticks)
    ax.set_yticklabels(top_ylabels, rotation=90, va='center', fontsize=10.5)
    ax.yaxis.set_minor_locator(matplotlib.ticker.NullLocator())
    ax.set_xticks(top_xticks)
    ax.set_xticklabels(["%.1f" % v for v in top_xticks], fontsize=11)
    style(ax)
    ax.tick_params(axis='x', pad=0.8)
    ax.tick_params(axis='y', pad=2.5)

    fig.text(fx(cx), fy(16), panel_titles[i], ha='center', va='center', fontsize=10, fontweight='bold')
    fig.text(fx(cx), fy(40.5), "Eff. Pop. Size Inference", ha='center', va='center',
             fontsize=12.5, fontweight='bold')
    fig.text(fx(L - 35), fy(168), "Effective Population Size", ha='center', va='center',
             rotation=90, fontsize=13)
    fig.text(fx(cx), fy(320), "Time", ha='center', va='center', fontsize=12.5)

    if i == 0:
        ax.annotate("BEAST cred. intervals", xy=(1.81, 10 ** 1.60), xytext=(1.61, 10 ** 2.03),
                    ha='center', va='center', fontsize=9, color=LIGHTBLUE,
                    arrowprops=dict(arrowstyle='->', color=LIGHTBLUE, lw=0.9, shrinkA=5, shrinkB=0,
                                    mutation_scale=8))
        ax.annotate("Truth", xy=(2.54, 10 ** -0.04), xytext=(2.74, 10 ** -0.53),
                    ha='center', va='center', fontsize=9, fontweight='bold', color='black',
                    arrowprops=dict(arrowstyle='->', color='black', lw=1.3, shrinkA=6, shrinkB=0,
                                    mutation_scale=9))
        ax.annotate("BEAST estimate", xy=(0.66, 10 ** -0.03), xytext=(0.99, 10 ** -0.615),
                    ha='center', va='center', fontsize=9.5, fontweight='bold', color=LINE,
                    arrowprops=dict(arrowstyle='->', color=LINE, lw=1.3, shrinkA=6, shrinkB=0,
                                    mutation_scale=9))

    # ---------- bottom panel ----------
    bx = fig.add_axes(box(L, 350, L + pw, 585))
    pts = np.array(ppcs[i])
    bx.scatter(pts[:, 0], pts[:, 1], s=14, color='black', alpha=0.5, edgecolors='none')
    bx.axline((0.0, 0.0), (1.0, 1.0), color='black', lw=0.8, ls=(0, (2.5, 2.5)))
    bx.set_xlim(*ppc_xlims[i])
    bx.set_ylim(*ppc_ylims[i])
    bx.set_xticks(ppc_xticks[i])
    bx.set_xticklabels(ppc_xlabels[i], fontsize=10.5)
    bx.set_yticks(ppc_yticks[i])
    bx.set_yticklabels(ppc_ylabels[i], rotation=90, va='center', fontsize=10.5)
    style(bx)
    bx.tick_params(axis='x', pad=2)
    bx.tick_params(axis='y', pad=3)

    fig.text(fx(cx), fy(339), "Coalescent PPC", ha='center', va='center', fontsize=12.5, fontweight='bold')
    fig.text(fx(cx), fy(615), "Observed", ha='center', va='center', fontsize=14)
    fig.text(fx(L - 35), fy(467), "Replicated", ha='center', va='center', rotation=90, fontsize=13)

fig.savefig("out.png", dpi=100)
